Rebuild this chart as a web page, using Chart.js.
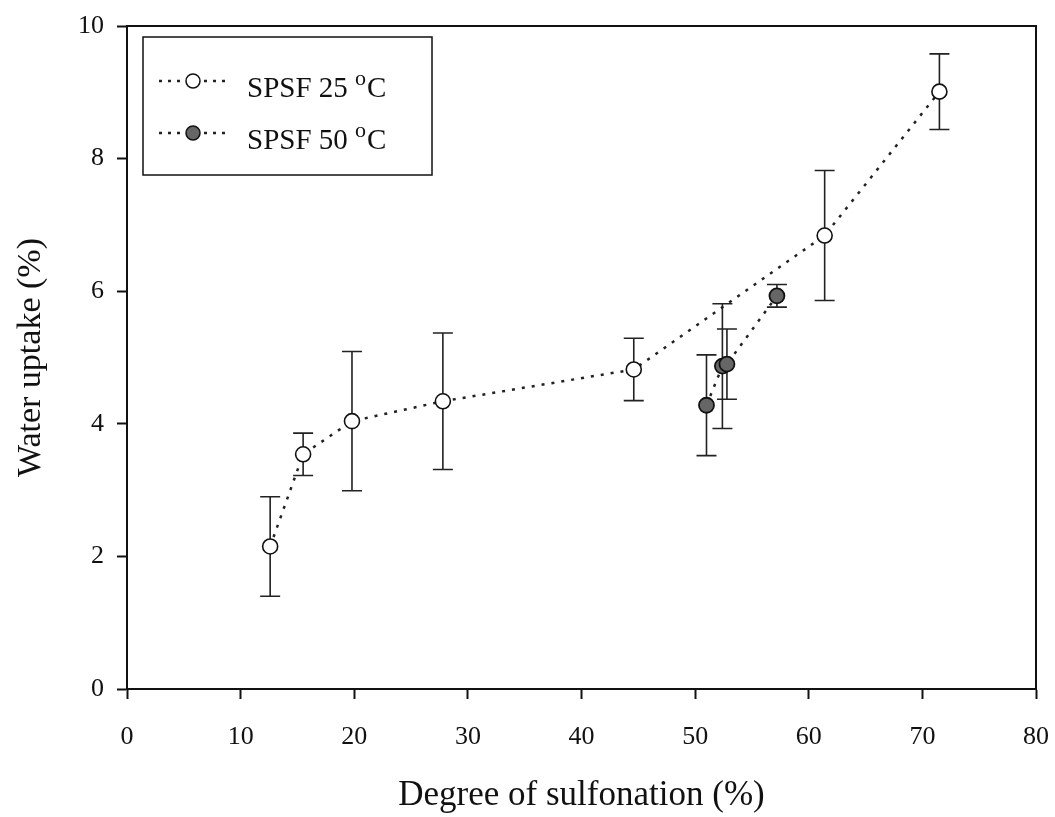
<!DOCTYPE html>
<html>
<head>
<meta charset="utf-8">
<script src="https://cdn.jsdelivr.net/npm/chart.js@4/dist/chart.umd.min.js"></script>
<style>
    body { margin: 0; background: #fff; }
    #wrap { width: 1055px; height: 817px; position: relative; }
</style>
</head>
<body>
<div id="wrap"><canvas id="uptakeChart"></canvas></div>
<script>
// degree of sulfonation (%) / water uptake (%) / error (+-)
const deg25 = [12.6, 15.5, 19.8, 27.8, 44.6, 61.4, 71.5];
const wu25 = [2.15, 3.54, 4.04, 4.34, 4.82, 6.84, 9.01];
const err25 = [0.75, 0.32, 1.05, 1.03, 0.47, 0.98, 0.57];

const deg50 = [51.0, 52.4, 52.8, 57.2];
const wu50 = [4.28, 4.87, 4.90, 5.93];
const err50 = [0.76, 0.94, 0.53, 0.17];

const seriesNames = ['SPSF 25', 'SPSF 50'];
const xTitle = 'Degree of sulfonation (%)';
const yTitle = 'Water uptake (%)';

const serif = '"Liberation Serif", "Times New Roman", serif';

function toPoints(xs, ys, es) {
    return xs.map((x, i) => ({ x: x, y: ys[i], err: es[i] }));
}

// error bars, drawn under the markers
const errorBars = {
    id: 'errorBars',
    beforeDatasetsDraw(chart) {
        const ctx = chart.ctx;
        const xs = chart.scales.x;
        const ys = chart.scales.y;
        ctx.save();
        ctx.strokeStyle = '#222';
        ctx.lineWidth = 1.6;
        chart.data.datasets.forEach(ds => {
            ds.data.forEach(p => {
                const px = xs.getPixelForValue(p.x);
                const top = ys.getPixelForValue(p.y + p.err);
                const bot = ys.getPixelForValue(p.y - p.err);
                ctx.beginPath();
                ctx.moveTo(px, top);
                ctx.lineTo(px, bot);
                ctx.moveTo(px - 10, top);
                ctx.lineTo(px + 10, top);
                ctx.moveTo(px - 10, bot);
                ctx.lineTo(px + 10, bot);
                ctx.stroke();
            });
        });
        ctx.restore();
    }
};

// box around the plot + legend box
const frameAndLegend = {
    id: 'frameAndLegend',
    afterDraw(chart) {
        const ctx = chart.ctx;
        const a = chart.chartArea;
        ctx.save();
        ctx.strokeStyle = '#111';
        ctx.lineWidth = 2;
        ctx.strokeRect(a.left, a.top, a.right - a.left, a.bottom - a.top);

        // legend
        const lx = a.left + 16, ly = a.top + 11;
        ctx.lineWidth = 1.5;
        ctx.strokeRect(lx, ly, 289, 138);
        chart.data.datasets.forEach((ds, i) => {
            const cy = ly + 44 + i * 52;
            ctx.setLineDash([3, 6]);
            ctx.lineWidth = 2.5;
            ctx.strokeStyle = '#222';
            ctx.beginPath();
            ctx.moveTo(lx + 16, cy);
            ctx.lineTo(lx + 86, cy);
            ctx.stroke();
            ctx.setLineDash([]);
            ctx.beginPath();
            ctx.arc(lx + 50, cy, 7, 0, Math.PI * 2);
            ctx.fillStyle = ds.pointBackgroundColor;
            ctx.fill();
            ctx.lineWidth = 1.5;
            ctx.strokeStyle = '#111';
            ctx.stroke();

            ctx.fillStyle = '#111';
            ctx.textBaseline = 'alphabetic';
            ctx.textAlign = 'left';
            ctx.font = '29px ' + serif;
            const base = cy + 16;
            let tx = lx + 104;
            ctx.fillText(seriesNames[i] + ' ', tx, base);
            tx += ctx.measureText(seriesNames[i] + ' ').width;
            ctx.font = '22px ' + serif;
            ctx.fillText('o', tx, base - 12);
            tx += ctx.measureText('o').width + 1;
            ctx.font = '29px ' + serif;
            ctx.fillText('C', tx, base);
        });
        ctx.restore();
    }
};

const ctx = document.getElementById('uptakeChart').getContext('2d');
new Chart(ctx, {
    type: 'scatter',
    data: {
        datasets: [{
            label: seriesNames[0],
            data: toPoints(deg25, wu25, err25),
            showLine: true,
            borderColor: '#222',
            borderWidth: 2.5,
            borderDash: [3, 7],
            pointRadius: 7.5,
            pointBorderWidth: 1.6,
            pointBorderColor: '#111',
            pointBackgroundColor: '#fff'
        }, {
            label: seriesNames[1],
            data: toPoints(deg50, wu50, err50),
            showLine: true,
            borderColor: '#222',
            borderWidth: 2.5,
            borderDash: [3, 7],
            pointRadius: 7.5,
            pointBorderWidth: 1.8,
            pointBorderColor: '#111',
            pointBackgroundColor: '#666'
        }]
    },
    options: {
        responsive: true,
        maintainAspectRatio: false,
        animation: false,
        layout: { padding: { top: 26, right: 19, left: 0, bottom: 0 } },
        plugins: {
            legend: { display: false },
            tooltip: { enabled: false }
        },
        scales: {
            x: {
                type: 'linear',
                min: 0,
                max: 80,
                afterFit(scale) {
                    scale.height = 128;
                    scale.paddingLeft = 0;
                    scale.paddingRight = 0;
                },
                ticks: {
                    stepSize: 10,
                    color: '#111',
                    font: { family: serif, size: 26 },
                    padding: 23,
                    maxRotation: 0
                },
                grid: {
                    drawOnChartArea: false,
                    tickLength: 10,
                    tickColor: '#111',
                    tickWidth: 2
                },
                border: { display: true, color: '#111', width: 2 },
                title: {
                    display: true,
                    text: xTitle,
                    color: '#111',
                    font: { family: serif, size: 35 },
                    padding: { top: 4, bottom: 0 }
                }
            },
            y: {
                min: 0,
                max: 10,
                afterFit(scale) {
                    scale.width = 127;
                    scale.paddingTop = 0;
                    scale.paddingBottom = 0;
                },
                ticks: {
                    stepSize: 2,
                    color: '#111',
                    font: { family: serif, size: 26 },
                    padding: 13
                },
                grid: {
                    drawOnChartArea: false,
                    tickLength: 10,
                    tickColor: '#111',
                    tickWidth: 2
                },
                border: { display: true, color: '#111', width: 2 },
                title: {
                    display: true,
                    text: yTitle,
                    color: '#111',
                    font: { family: serif, size: 34 },
                    padding: { top: 11, bottom: 0 }
                }
            }
        }
    },
    plugins: [errorBars, frameAndLegend]
});
</script>
</body>
</html>
